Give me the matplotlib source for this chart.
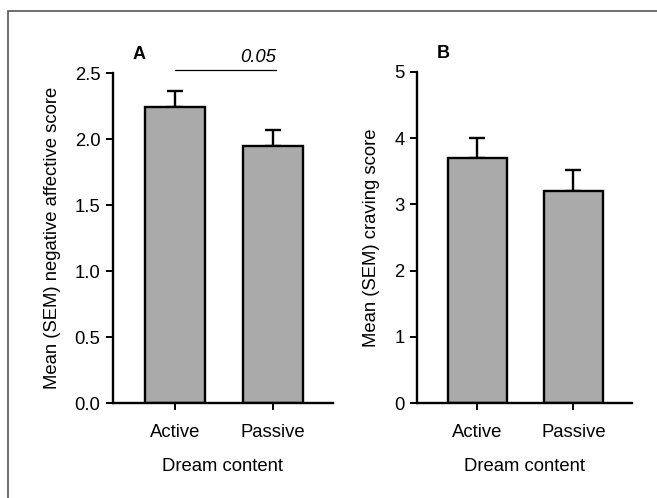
import matplotlib.pyplot as plt
from matplotlib.patches import Rectangle

plt.rcParams['font.family'] = ['Liberation Sans', 'DejaVu Sans']

groups = ["Active", "Passive"]
neg_affect = [2.24, 1.95]
neg_affect_sem = [0.12, 0.12]
craving = [3.70, 3.20]
craving_sem = [0.31, 0.32]
p_value = "0.05"

fig = plt.figure(figsize=(6.57, 4.98), dpi=100)

# outer frame of the figure panel (only left/top visible in crop)
fig.patches.append(Rectangle((8 / 657, -0.1), 1.2, 1 - 11 / 498 + 0.1,
                             transform=fig.transFigure, fill=False,
                             edgecolor='#555555', linewidth=1.2))

FS = 13.3


def bar_panel(ax, values, errs, ymax, yticks, ylabel, letter):
    x = range(len(groups))
    ax.bar(x, values, width=0.61, color='#aaaaaa', edgecolor='black', linewidth=1.7, zorder=2)
    ax.errorbar(x, values, yerr=[[0, 0], errs], fmt='none', ecolor='black',
                elinewidth=1.7, capsize=5.5, capthick=1.7, zorder=1)
    ax.set_xlim(-0.63, 1.61)
    ax.set_ylim(0, ymax)
    ax.set_yticks(yticks)
    ax.set_xticks(list(x))
    ax.set_xticklabels(groups)
    ax.spines['top'].set_visible(False)
    ax.spines['right'].set_visible(False)
    ax.spines['left'].set_linewidth(1.7)
    ax.spines['bottom'].set_linewidth(1.7)
    ax.tick_params(direction='out', length=5, width=1.4, pad=4, labelsize=FS, colors='black')
    ax.tick_params(axis='x', pad=10)
    ax.set_ylabel(ylabel, fontsize=FS, labelpad=10)
    ax.set_xlabel("Dream content", fontsize=FS, labelpad=12)
    ax.text(0.09, 1.03, letter, transform=ax.transAxes,
            fontsize=13, fontweight='bold', va='bottom')


ax1 = fig.add_axes([113 / 657, 1 - 403 / 498, 220 / 657, 330 / 498])
bar_panel(ax1, neg_affect, neg_affect_sem, 2.5, [0.0, 0.5, 1.0, 1.5, 2.0, 2.5],
          "Mean (SEM) negative affective score", 'A')
ax1.set_yticklabels(["0.0", "0.5", "1.0", "1.5", "2.0", "2.5"])
ax1.plot([0, 1.03], [2.52, 2.52], color='black', linewidth=0.9, clip_on=False)
ax1.text(1.03, 2.555, p_value, style='italic', ha='right', va='bottom', fontsize=FS)

ax2 = fig.add_axes([417 / 657, 1 - 403 / 498, 215 / 657, 331 / 498])
bar_panel(ax2, craving, craving_sem, 5, [0, 1, 2, 3, 4, 5],
          "Mean (SEM) craving score", 'B')

fig.savefig("out.png", dpi=100)
